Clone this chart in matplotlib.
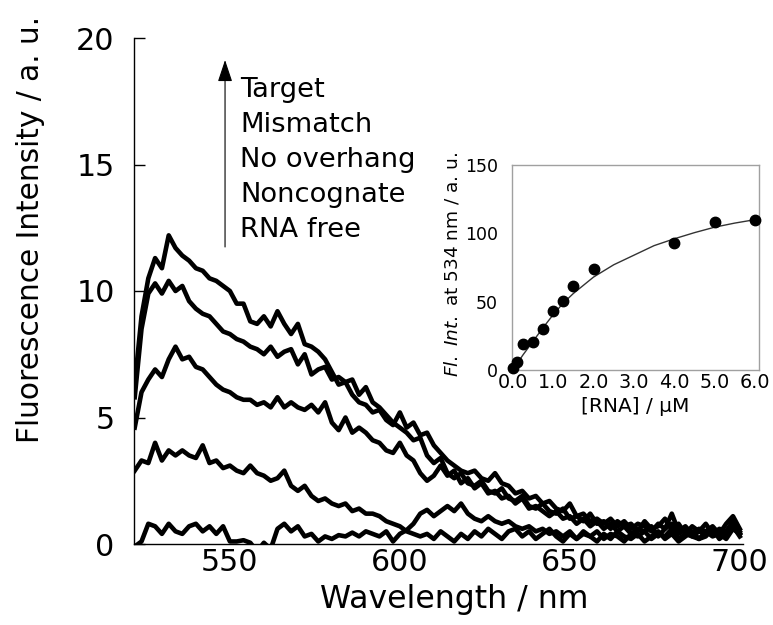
import numpy as np
import matplotlib
matplotlib.use("Agg")
import matplotlib.pyplot as plt

plt.rcParams['font.family'] = ['DejaVu Sans']
plt.rcParams['mathtext.fontset'] = 'custom'
plt.rcParams['mathtext.rm'] = 'DejaVu Sans'
plt.rcParams['mathtext.it'] = 'DejaVu Sans:italic'

# wavelength grid of the spectra (nm), every 2 nm
wavelength = list(range(522, 701, 2))

target = [6.3, 9.0, 10.5, 11.3, 10.9, 12.2, 11.7, 11.4, 11.2, 10.9,
          10.8, 10.5, 10.4, 10.2, 10.0, 9.5, 9.5, 8.8, 8.7, 9.0,
          8.6, 9.2, 8.7, 8.3, 8.7, 7.9, 7.8, 7.6, 7.3, 6.8,
          6.3, 6.4, 5.9, 5.6, 5.5, 5.2, 5.3, 4.9, 4.7, 5.2,
          4.6, 4.8, 4.3, 4.4, 3.9, 3.6, 3.3, 3.1, 2.9, 2.8,
          2.9, 2.6, 2.5, 2.8, 2.4, 2.3, 2.0, 2.1, 1.8, 1.9,
          1.6, 1.7, 1.4, 1.3, 1.6, 1.1, 1.2, 0.9, 1.0, 0.8,
          1.0, 0.7, 0.9, 0.6, 0.8, 0.7, 0.5, 0.8, 0.6, 1.2,
          0.5, 0.7, 0.4, 0.6, 0.5, 0.7, 0.4, 0.8, 1.1, 0.6]
mismatch = [5.8, 8.5, 9.9, 10.3, 9.9, 10.4, 10.0, 10.2, 9.6, 9.3,
            9.1, 9.0, 8.7, 8.4, 8.3, 8.1, 8.0, 7.8, 7.7, 7.5,
            7.8, 7.4, 7.6, 7.7, 7.1, 7.5, 6.7, 6.9, 7.0, 6.5,
            6.6, 6.4, 6.5, 5.9, 6.2, 5.6, 5.4, 5.1, 4.8, 4.6,
            4.4, 4.1, 4.2, 3.5, 3.2, 3.4, 2.8, 2.6, 2.8, 2.4,
            2.3, 2.5, 2.1, 2.0, 2.2, 1.8, 1.7, 1.9, 1.5, 1.4,
            1.6, 1.3, 1.2, 1.4, 1.0, 1.1, 0.9, 1.2, 0.8, 0.9,
            0.6, 0.9, 0.7, 0.8, 0.5, 0.9, 0.6, 0.7, 1.0, 0.6,
            0.8, 0.4, 0.7, 0.5, 0.8, 0.4, 0.6, 0.5, 0.9, 0.5]
no_overhang = [4.6, 6.0, 6.5, 6.9, 6.6, 7.3, 7.8, 7.3, 7.4, 7.0,
               6.9, 6.6, 6.3, 6.1, 6.0, 5.8, 5.7, 5.7, 5.5, 5.6,
               5.4, 5.8, 5.4, 5.6, 5.4, 5.3, 5.5, 5.2, 5.6, 4.8,
               4.5, 5.0, 4.4, 4.6, 4.4, 4.1, 4.0, 3.7, 3.6, 4.0,
               3.5, 3.3, 2.8, 2.5, 2.7, 3.1, 2.7, 2.9, 2.4, 2.6,
               2.2, 2.4, 2.0, 2.1, 1.8, 1.9, 1.6, 1.8, 1.4, 1.5,
               1.3, 1.1, 1.3, 1.0, 1.1, 0.8, 1.0, 0.7, 0.9, 0.6,
               0.8, 0.5, 0.7, 0.4, 0.6, 0.5, 0.7, 0.3, 0.6, 0.8,
               0.4, 0.6, 0.3, 0.5, 0.4, 0.6, 0.3, 0.5, 0.8, 0.4]
noncognate = [2.9, 3.3, 3.2, 4.0, 3.3, 3.7, 3.5, 3.7, 3.5, 3.4,
              3.9, 3.2, 3.3, 3.0, 3.1, 2.9, 2.8, 3.1, 2.8, 2.7,
              2.5, 2.6, 2.9, 2.3, 2.1, 2.3, 1.9, 1.7, 1.8, 1.6,
              1.5, 1.6, 1.3, 1.4, 1.2, 1.2, 1.1, 0.9, 0.8, 0.7,
              0.5, 0.4, 0.3, 0.4, 0.2, 0.5, 0.3, 0.1, 0.4, 0.2,
              0.5, 0.3, 0.6, 0.4, 0.2, 0.5, 0.6, 0.3, 0.5, 0.2,
              0.4, 0.6, 0.3, 0.1, 0.4, 0.2, 0.5, 0.3, 0.1, 0.4,
              0.2, 0.5, 0.3, 0.2, 0.4, 0.1, 0.3, 0.5, 0.2, 0.4,
              0.1, 0.3, 0.5, 0.2, 0.3, 0.6, 0.2, 0.4, 0.7, 0.3]
rna_free = [-0.1, 0.1, 0.8, 0.7, 0.4, 0.8, 0.5, 0.4, 0.7, 0.8,
            0.5, 0.7, 0.4, 0.7, 0.1, 0.1, 0.15, 0.05, -0.3, 0.05,
            -0.2, 0.6, 0.8, 0.5, 0.7, 0.3, 0.4, 0.1, 0.3, 0.2,
            0.35, 0.3, 0.45, 0.3, 0.5, 0.4, 0.3, 0.5, 0.1, 0.4,
            0.55, 0.8, 1.2, 1.35, 1.1, 1.3, 1.5, 1.3, 1.6, 1.2,
            1.0, 0.9, 1.1, 0.9, 0.8, 0.9, 0.7, 0.6, 0.7, 0.5,
            0.6, 0.4, 0.5, 0.3, 0.5, 0.2, 0.4, 0.3, 0.5, 0.2,
            0.4, 0.3, 0.1, 0.4, 0.3, 0.5, 0.2, 0.4, 0.3, 0.6,
            0.2, 0.4, 0.3, 0.2, 0.5, 0.3, 0.4, 0.2, 0.6, 0.4]

legend_labels = ["Target", "Mismatch", "No overhang", "Noncognate", "RNA free"]

# titration (inset)
rna_conc = [0, 0.1, 0.25, 0.5, 0.75, 1.0, 1.25, 1.5, 2.0, 4.0, 5.0, 6.0]
fl_int = [1.5, 5.5, 19, 20.5, 30, 43, 50.5, 61.5, 74, 93, 108, 110]
fit_conc = [0, 0.25, 0.5, 0.75, 1.0, 1.25, 1.5, 2.0, 2.5, 3.0, 3.5, 4.0, 4.5, 5.0, 5.5, 6.0]
fit_int = [0, 11, 21, 31, 40.5, 49, 56, 68, 77, 84, 91, 96, 100.5, 104.5, 107.5, 110]

fig = plt.figure(figsize=(7.73, 6.25), dpi=100)
ax = fig.add_axes([0.1734, 0.1296, 0.788, 0.8096])

for s in [rna_free, noncognate, no_overhang, mismatch, target]:
    ax.plot(wavelength, s, color='black', lw=3.3, solid_joinstyle='round')

ax.set_xlim(521.8, 701)
ax.set_ylim(0, 20)
ax.set_xticks([550, 600, 650, 700])
ax.set_yticks([0, 5, 10, 15, 20])
ax.spines['top'].set_visible(False)
ax.spines['right'].set_visible(False)
ax.spines['left'].set_linewidth(1)
ax.spines['bottom'].set_linewidth(1)
ax.tick_params(axis='y', direction='in', length=8, width=1, labelsize=21.7, pad=14)
ax.tick_params(axis='x', length=0, labelsize=21.7, pad=3)
ax.set_xlabel("Wavelength / nm", fontsize=22.7)
ax.set_ylabel("Fluorescence Intensity / a. u.", fontsize=21.3)
ax.xaxis.set_label_coords(0.525, -0.079)
ax.yaxis.set_label_coords(-0.146, 0.6225)

# arrow + labels
ax.annotate('', xy=(0.1494, 0.9565), xytext=(0.1494, 0.587), xycoords='axes fraction',
            arrowprops=dict(arrowstyle='-|>,head_length=0.9,head_width=0.3',
                            color='black', lw=0.8, mutation_scale=15, shrinkA=0, shrinkB=0))
for i, lab in enumerate(legend_labels):
    ax.text(0.174, 0.883 - i * 0.0692, lab, transform=ax.transAxes,
            fontsize=19.7, va='baseline', ha='left')

# inset
ins = fig.add_axes([0.6624, 0.408, 0.3195, 0.328])
ins.plot(fit_conc, fit_int, color='#333333', lw=1)
ins.plot(rna_conc, fl_int, 'o', color='black', ms=7.5, clip_on=False, zorder=3)
ins.set_xlim(-0.02, 6.1)
ins.set_ylim(0, 150)
ins.set_xticks([0, 1, 2, 3, 4, 5, 6])
ins.set_xticklabels(["0.0", "1.0", "2.0", "3.0", "4.0", "5.0", "6.0"])
ins.set_yticks([0, 50, 100, 150])
for sp in ins.spines.values():
    sp.set_color('#a0a0a0')
    sp.set_linewidth(1)
ins.tick_params(axis='x', length=0, labelsize=13.8, pad=2)
ins.tick_params(axis='y', length=0, labelsize=12.5, pad=10)
ins.set_xlabel("[RNA] / \u03bcM", fontsize=14.5)
ins.set_ylabel(r"$\mathit{Fl.\ Int.}$ at 534 nm / a. u.", fontsize=13.3)
ins.xaxis.set_label_coords(0.498, -0.132)
ins.yaxis.set_label_coords(-0.206, 0.517)

fig.savefig("out.png", dpi=100)
